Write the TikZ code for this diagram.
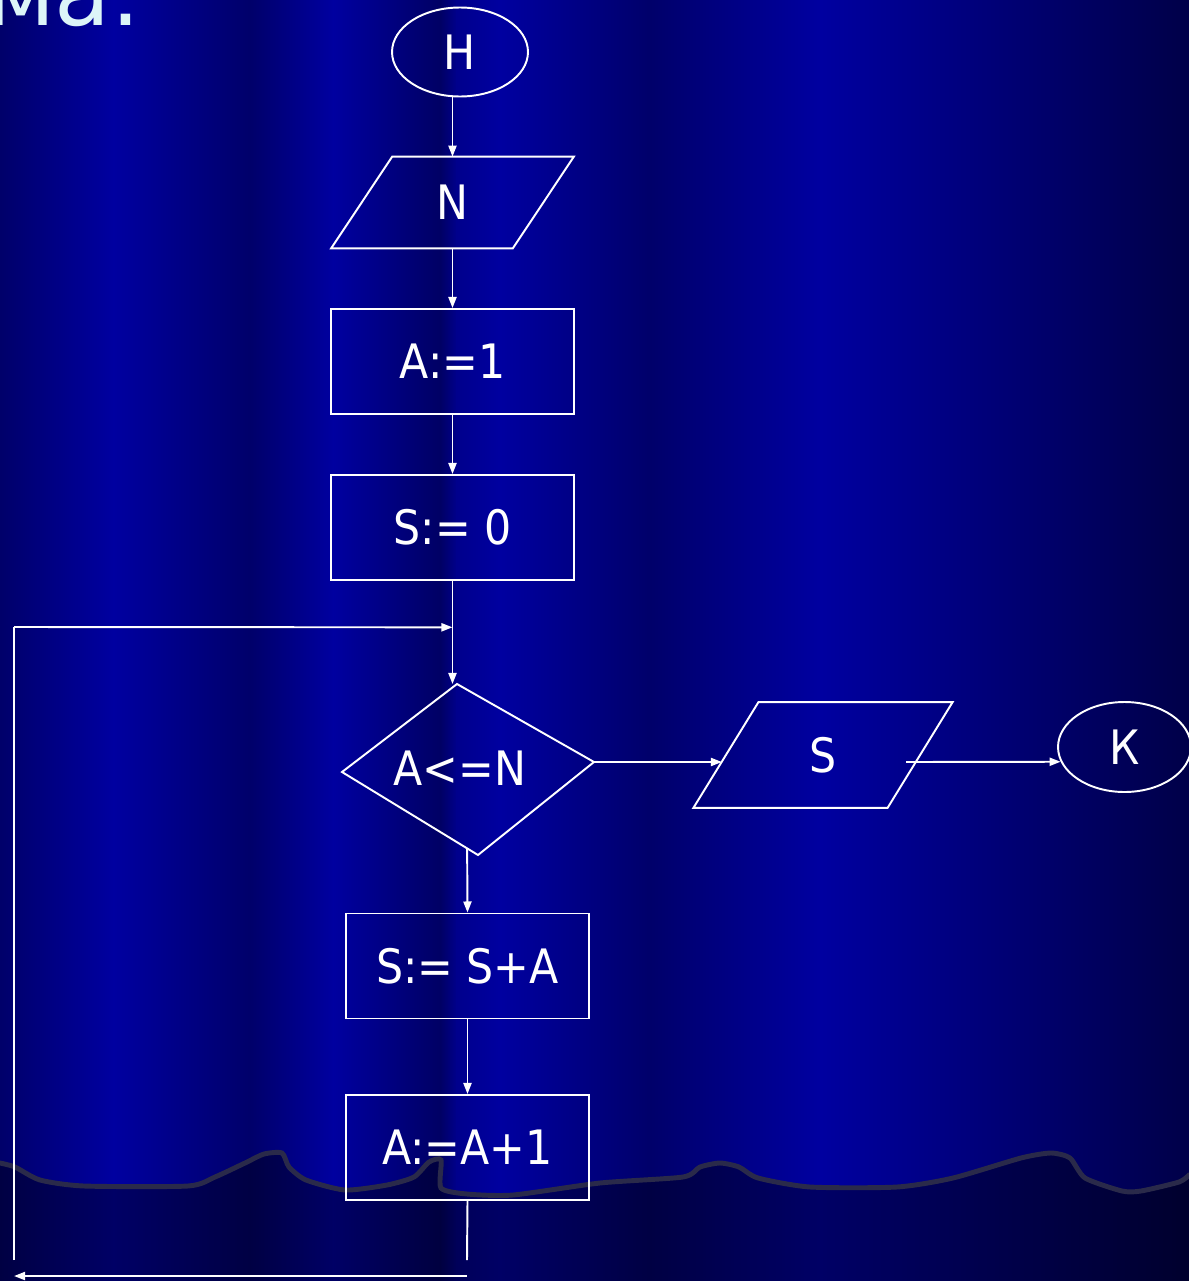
\documentclass[tikz,border=0pt]{standalone}
\usepackage{fontspec}
\setmainfont{DejaVu Sans}[FakeStretch=0.9]
\newfontfamily\titlefont{DejaVu Sans}
\usetikzlibrary{shapes.geometric,arrows.meta,calc}

\definecolor{bgbright}{RGB}{0,0,160}
\definecolor{bgdark}{RGB}{0,0,106}
\definecolor{bgdeep}{RGB}{0,0,100}
\definecolor{bgmid}{RGB}{0,0,140}
\definecolor{bgend}{RGB}{0,0,72}
\definecolor{wavegray}{RGB}{42,42,74}
\definecolor{titlecyan}{RGB}{220,245,248}

\tikzset{
  flow/.style={draw=white, line width=1.1pt},
  arr/.style={flow, -{Triangle[length=6.3pt,width=4.6pt]}},
  lbl/.style={text=white, font=\fontsize{27}{32}\selectfont},
  blockbox/.style={flow, lbl, rectangle, minimum width=4.86cm, minimum height=2.1cm},
  termbox/.style={flow, lbl, ellipse, minimum width=2.72cm, minimum height=1.78cm},
  iobox/.style={lbl, rectangle, minimum height=1.82cm},
}
% parallelogram round an io node: name, half slant
\newcommand{\ioshape}[2]{%
  \draw[flow] ($(#1.north west)+(#2,0)$) -- ($(#1.north east)+(#2,0)$)
    -- ($(#1.south east)+(-#2,0)$) -- ($(#1.south west)+(-#2,0)$) -- cycle;}

\begin{document}
\begin{tikzpicture}[x=0.02cm, y=-0.02cm]
    \useasboundingbox (0,0) rectangle (1189,1281);
    \clip (0,0) rectangle (1189,1281);

    % background
    \foreach \xa/\ca/\xb/\cb in {0/bgdark/113/bgbright, 113/bgbright/250/bgdark,
        250/bgdark/333/bgbright, 333/bgbright/440/bgdeep, 440/bgdeep/456/bgmid,
        456/bgmid/500/bgbright, 500/bgbright/650/bgdark, 650/bgdark/820/bgbright,
        820/bgbright/1189/bgend}
        \shade[left color=\ca, right color=\cb] (\xa,0) rectangle (\xb+1,1281);
    \draw[wavegray, line width=2.8pt, preaction={fill=black, fill opacity=0.36}]
        plot[smooth, tension=0.4] coordinates {(0,1163) (15,1167) (40,1180) (84,1186)
        (188,1186) (215,1177) (245,1163) (264,1154) (282,1153) (289,1167) (306,1180)
        (345,1190) (387,1185) (414,1177) (429,1162) (441,1160) (441,1188) (467,1194)
        (513,1195) (600,1183) (683,1177) (700,1167) (720,1163) (739,1167) (758,1178)
        (810,1187) (897,1187) (953,1178) (1021,1158) (1051,1153) (1070,1158)
        (1085,1178) (1122,1191) (1141,1191) (1179,1182) (1189,1175)}
        -- (1210,1175) -- (1210,1300) -- (-20,1300) -- (-20,1163) -- cycle;

    \node[anchor=base east, text=titlecyan, font=\titlefont\fontsize{52}{60}\selectfont] (ttl) at (148,26) {ма:};

    \node[termbox] (h) at (460,52) {Н};
    \node[iobox, minimum width=3.62cm] (n) at (452.5,202.5) {N};
    \node[blockbox] (a1) at (452.5,361.5) {A:=1};
    \node[blockbox] (s0) at (452.5,527.5) {S:= 0};

    \coordinate (dtop) at (457,684);
    \coordinate (dright) at (594,762);
    \coordinate (dbottom) at (478,855);
    \coordinate (dleft) at (342,772);
    \node[lbl] (cond) at (460,768) {A<=N};

    \node[iobox, minimum width=3.87cm, minimum height=2.1cm] (out) at (823,755) {S};
    \node[termbox, minimum width=2.66cm, minimum height=1.8cm] (k) at (1124.5,747) {К};
    \node[blockbox] (sa) at (467.5,966) {S:= S+A};
    \node[blockbox] (a41) at (467.5,1147.5) {A:=A+1};

    \ioshape{n}{30.5}
    \ioshape{out}{32.5}
    \draw[flow] (dtop) -- (dright) -- (dbottom) -- (dleft) -- cycle;

    \draw[arr] (n.north |- h.south) -- (n.north);
    \draw[arr] (n.south) -- (a1.north);
    \draw[arr] (a1.south) -- (s0.north);
    \draw[arr] (s0.south) -- (s0.south |- dtop);
    \draw[arr] ($(dleft)!0.92!(dbottom)$) -- (sa.north);
    \draw[arr] (sa.south) -- (a41.north);
    \draw[arr] (dright) -- ($(out.west)+(-4,7)$);
    \draw[arr] ($(out.east)+(-14,7)$) -- (k.193.5);

    % loop back
    \coordinate (join) at ($(s0.south)!0.45!(s0.south |- dtop)$);
    \coordinate (back1) at (467,1260);
    \coordinate (back2) at (467,1276);
    \coordinate (back3) at (14,1276);
    \coordinate (back4) at (14,1260);
    \coordinate (back5) at (14,627);
    \draw[flow] (a41.south) -- (back1);
    \draw[arr] (back2) -- (back3);
    \draw[flow] (back4) -- (back5);
    \draw[arr] (back5) -- (join);
\end{tikzpicture}
\end{document}
